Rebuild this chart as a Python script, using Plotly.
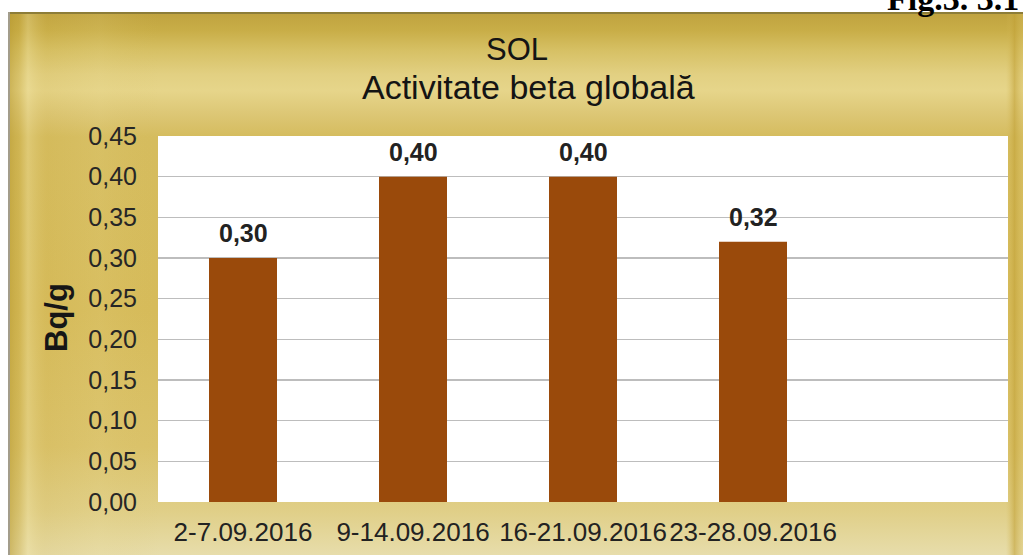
import base64
import plotly.graph_objects as go

# ---- data ----
categories = ["2-7.09.2016", "9-14.09.2016", "16-21.09.2016", "23-28.09.2016"]
values = [0.30, 0.40, 0.40, 0.32]
value_labels = ["0,30", "0,40", "0,40", "0,32"]
y_ticks = [0.00, 0.05, 0.10, 0.15, 0.20, 0.25, 0.30, 0.35, 0.40, 0.45]
title_line1 = "SOL"
title_line2 = "Activitate beta globală"
y_title = "Bq/g"
fig_tag = "Fig.3. 3.1"

W, H = 1023, 555
L, R, T, B = 158, 15, 136, 53
PW, PH = W - L - R, H - T - B


def px_x(px):
    return (px - L) / PW


def px_y(py):
    return (H - B - py) / PH


svg = f"""<svg xmlns='http://www.w3.org/2000/svg' width='{W}' height='{H}' viewBox='0 0 {W} {H}' preserveAspectRatio='none'>
<defs>
<linearGradient id='v' x1='0' y1='0' x2='0' y2='1'>
<stop offset='0' stop-color='#bfa23e'/>
<stop offset='0.035' stop-color='#c9ae48'/>
<stop offset='0.07' stop-color='#d6c064'/>
<stop offset='0.115' stop-color='#e2d082'/>
<stop offset='0.145' stop-color='#e6d58a'/>
<stop offset='0.19' stop-color='#dcc674'/>
<stop offset='0.23' stop-color='#d5bc5e'/>
<stop offset='0.55' stop-color='#d6bb5a'/>
<stop offset='0.80' stop-color='#dac26a'/>
<stop offset='0.92' stop-color='#e0cf88'/>
<stop offset='1' stop-color='#e7ddab'/>
</linearGradient>
<linearGradient id='hl' x1='0' y1='0' x2='1' y2='0'>
<stop offset='0' stop-color='#b89a30' stop-opacity='0.55'/>
<stop offset='0.06' stop-color='#c4a63c' stop-opacity='0.35'/>
<stop offset='0.12' stop-color='#f0e2a0' stop-opacity='0.35'/>
<stop offset='0.25' stop-color='#d0b350' stop-opacity='0.15'/>
<stop offset='0.6' stop-color='#e6d488' stop-opacity='0.15'/>
<stop offset='1' stop-color='#d6bb5a' stop-opacity='0'/>
</linearGradient>
<linearGradient id='hr' x1='0' y1='0' x2='1' y2='0'>
<stop offset='0' stop-color='#d6bb5a' stop-opacity='0'/>
<stop offset='0.5' stop-color='#c2a238' stop-opacity='0.6'/>
<stop offset='1' stop-color='#d9c064' stop-opacity='0.3'/>
</linearGradient>
</defs>
<rect x='0' y='0' width='{W}' height='{H}' fill='#ffffff'/>
<rect x='8' y='12' width='{W-8}' height='{H-12}' fill='url(#v)'/>
<rect x='10' y='14' width='150' height='{H-14}' fill='url(#hl)'/>
<rect x='1006' y='14' width='17' height='{H-14}' fill='url(#hr)'/>
<rect x='8' y='12' width='{W-8}' height='2' fill='#8d7d38'/>
<rect x='8' y='12' width='2' height='{H-12}' fill='#a39d8c'/>
</svg>"""
bg_src = "data:image/svg+xml;base64," + base64.b64encode(svg.encode("utf-8")).decode("ascii")

fig = go.Figure()
fig.add_trace(go.Bar(
    x=categories,
    y=values,
    width=0.4,
    marker=dict(color="#9a4a0b", line=dict(width=0)),
    hoverinfo="skip",
))

annotations = []
for c, v, lab in zip(categories, values, value_labels):
    annotations.append(dict(
        x=c, y=v, xref="x", yref="y", text=f"<b>{lab}</b>",
        showarrow=False, yanchor="bottom", yshift=9,
        font=dict(family="Liberation Sans, Arial", size=25, color="#222222"),
    ))

annotations += [
    dict(x=px_x(517), y=px_y(50), xref="paper", yref="paper", text=title_line1,
         showarrow=False, xanchor="center", yanchor="middle",
         font=dict(family="Liberation Sans, Arial", size=31, color="#141414")),
    dict(x=px_x(528), y=px_y(87), xref="paper", yref="paper", text=title_line2,
         showarrow=False, xanchor="center", yanchor="middle",
         font=dict(family="Liberation Sans, Arial", size=34, color="#141414")),
    dict(x=px_x(56), y=px_y(318), xref="paper", yref="paper", text=f"<b>{y_title}</b>",
         showarrow=False, xanchor="center", yanchor="middle", textangle=-90,
         font=dict(family="Liberation Sans, Arial", size=31, color="#161616")),
    dict(x=px_x(885), y=px_y(19), xref="paper", yref="paper", text=f"<b>{fig_tag}</b>",
         showarrow=False, xanchor="left", yanchor="bottom",
         font=dict(family="Liberation Serif, Times New Roman", size=34, color="#000000")),
]

fig.update_layout(
    width=W, height=H,
    margin=dict(l=L, r=R, t=T, b=B, autoexpand=False),
    paper_bgcolor="#ffffff",
    plot_bgcolor="#ffffff",
    separators=",.",
    showlegend=False,
    bargap=0.6,
    images=[dict(
        source=bg_src, xref="paper", yref="paper",
        x=-L / PW, y=1 + T / PH, sizex=W / PW, sizey=H / PH,
        xanchor="left", yanchor="top", sizing="stretch", layer="below",
    )],
    shapes=[dict(
        type="rect", xref="paper", yref="paper", x0=0, x1=1, y0=0, y1=1,
        fillcolor="#ffffff", line=dict(width=0), layer="below",
    )],
    annotations=annotations,
    xaxis=dict(
        type="category",
        categoryorder="array", categoryarray=categories,
        range=[-0.5, 4.5],
        tickangle=0,
        showgrid=False, zeroline=False, showline=False,
        ticks="", ticklabelstandoff=12,
        tickfont=dict(family="Liberation Sans, Arial", size=26, color="#222222"),
        fixedrange=True,
    ),
    yaxis=dict(
        range=[0, 0.45],
        tickvals=y_ticks,
        tickformat=".2f",
        showgrid=True, gridcolor="#bdbdbd", gridwidth=1.3,
        zeroline=False, showline=False,
        ticks="", ticklabelstandoff=20,
        tickfont=dict(family="Liberation Sans, Arial", size=25, color="#262626"),
        fixedrange=True,
    ),
)

fig.write_html(
    "out.html",
    config={"displayModeBar": False, "staticPlot": True},
    post_script="document.body.style.margin='0px';document.body.style.overflow='hidden';",
)
